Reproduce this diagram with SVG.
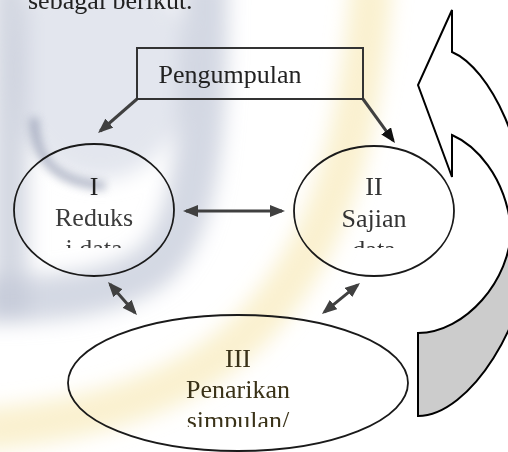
<svg xmlns="http://www.w3.org/2000/svg" width="508" height="452" viewBox="0 0 508 452">
<defs>
<style>
.t{font-family:"Liberation Serif","Times New Roman",serif;font-size:26px;fill:#2b2b2b;text-anchor:middle}
.node{fill:none;stroke:#1a1a1a;stroke-width:1.8}
.conn{fill:none;stroke:#404040;stroke-width:3}
.shape{stroke:#000;stroke-width:2;stroke-linejoin:miter}
</style>
<filter id="b1" x="-50%" y="-50%" width="200%" height="200%"><feGaussianBlur stdDeviation="10"/></filter>
<filter id="b2" x="-50%" y="-50%" width="200%" height="200%"><feGaussianBlur stdDeviation="4"/></filter>
<marker id="ah" viewBox="0 0 15 12" refX="12" refY="6" markerWidth="15" markerHeight="12" markerUnits="userSpaceOnUse" orient="auto-start-reverse"><path d="M0,0 L15,6 L0,12 z" fill="#404040"/></marker>
<marker id="ahk" viewBox="0 0 15 12" refX="12" refY="6" markerWidth="15" markerHeight="12" markerUnits="userSpaceOnUse" orient="auto"><path d="M0,0 L15,6 L0,12 z" fill="#111"/></marker>
<clipPath id="c1"><rect x="0" y="0" width="508" height="248"/></clipPath>
<clipPath id="c3"><rect x="0" y="0" width="508" height="427"/></clipPath>
</defs>
<g id="background">
<rect width="508" height="452" fill="#ffffff"/>
<g filter="url(#b1)">
<ellipse cx="100" cy="70" rx="90" ry="110" fill="#e3e6ee"/>
<path d="M10,-20 L10,320" stroke="#c9cedb" stroke-width="36" fill="none" opacity="0.8"/>
<path d="M205,-20 C205,120 200,230 150,268 C110,295 50,300 -20,300" stroke="#c2c8d7" stroke-width="46" fill="none" opacity="0.7"/>
<path d="M372,-20 C360,140 330,250 250,330 C190,390 100,420 -20,430" stroke="#f6e8b0" stroke-width="42" fill="none" opacity="0.6"/>
</g>
<path d="M34,118 C35,162 58,182 105,186" stroke="#8a93ab" stroke-width="9" fill="none" opacity="0.6" filter="url(#b2)"/>
</g>
<text class="t" x="28" y="9" style="text-anchor:start;fill:#222">sebagai berikut.</text>
<g id="connectors">
<path class="conn" d="M137,99 L100.3,131" marker-end="url(#ah)"/>
<path class="conn" d="M363,99 L393.2,140.6" marker-end="url(#ahk)"/>
<path class="conn" d="M186,211 L282,211" marker-start="url(#ah)" marker-end="url(#ah)"/>
<path class="conn" d="M110,284.3 L135,312.7" marker-start="url(#ah)" marker-end="url(#ah)"/>
<path class="conn" d="M357.7,284.9 L324.3,312.1" marker-start="url(#ah)" marker-end="url(#ah)"/>
</g>
<g id="node-pengumpulan">
<rect x="137" y="48" width="226" height="51" fill="none" stroke="#333" stroke-width="2"/>
<text class="t" x="230" y="83" style="fill:#222">Pengumpulan</text>
</g>
<g id="node-reduksi">
<ellipse class="node" cx="94" cy="210" rx="80" ry="66"/>
<g clip-path="url(#c1)">
<text class="t" x="94" y="195" style="fill:#222">I</text>
<text class="t" x="94" y="226" style="fill:#3c3c3c">Reduks</text>
<text class="t" x="94" y="257" style="fill:#3c3c3c">i data</text>
</g>
</g>
<g id="node-sajian">
<ellipse class="node" cx="374" cy="211" rx="80" ry="65"/>
<g clip-path="url(#c1)">
<text class="t" x="374" y="195" style="fill:#333">II</text>
<text class="t" x="374" y="227" style="fill:#333">Sajian</text>
<text class="t" x="374" y="258" style="fill:#333">data</text>
</g>
</g>
<g id="node-penarikan">
<ellipse class="node" cx="238" cy="383" rx="170" ry="68"/>
<g clip-path="url(#c3)">
<text class="t" x="238" y="367" style="fill:#3a3218">III</text>
<text class="t" x="238" y="398" style="fill:#3a3218">Penarikan</text>
<text class="t" x="238" y="429" style="fill:#3a3218">simpulan/</text>
</g>
</g>
<g id="cycle-arrow">
<path class="shape" fill="#ffffff" d="M452,177 L418,85 L452,10 L452,52 C490,68 530,150 530,240 L511,228 C505,175 475,145 452,135 Z"/>
<path class="shape" fill="#cccccc" d="M418,333 C465,333 511,280 511,228 L530,240 C530,320 470,416 418,416 Z"/>
</g>
</svg>
